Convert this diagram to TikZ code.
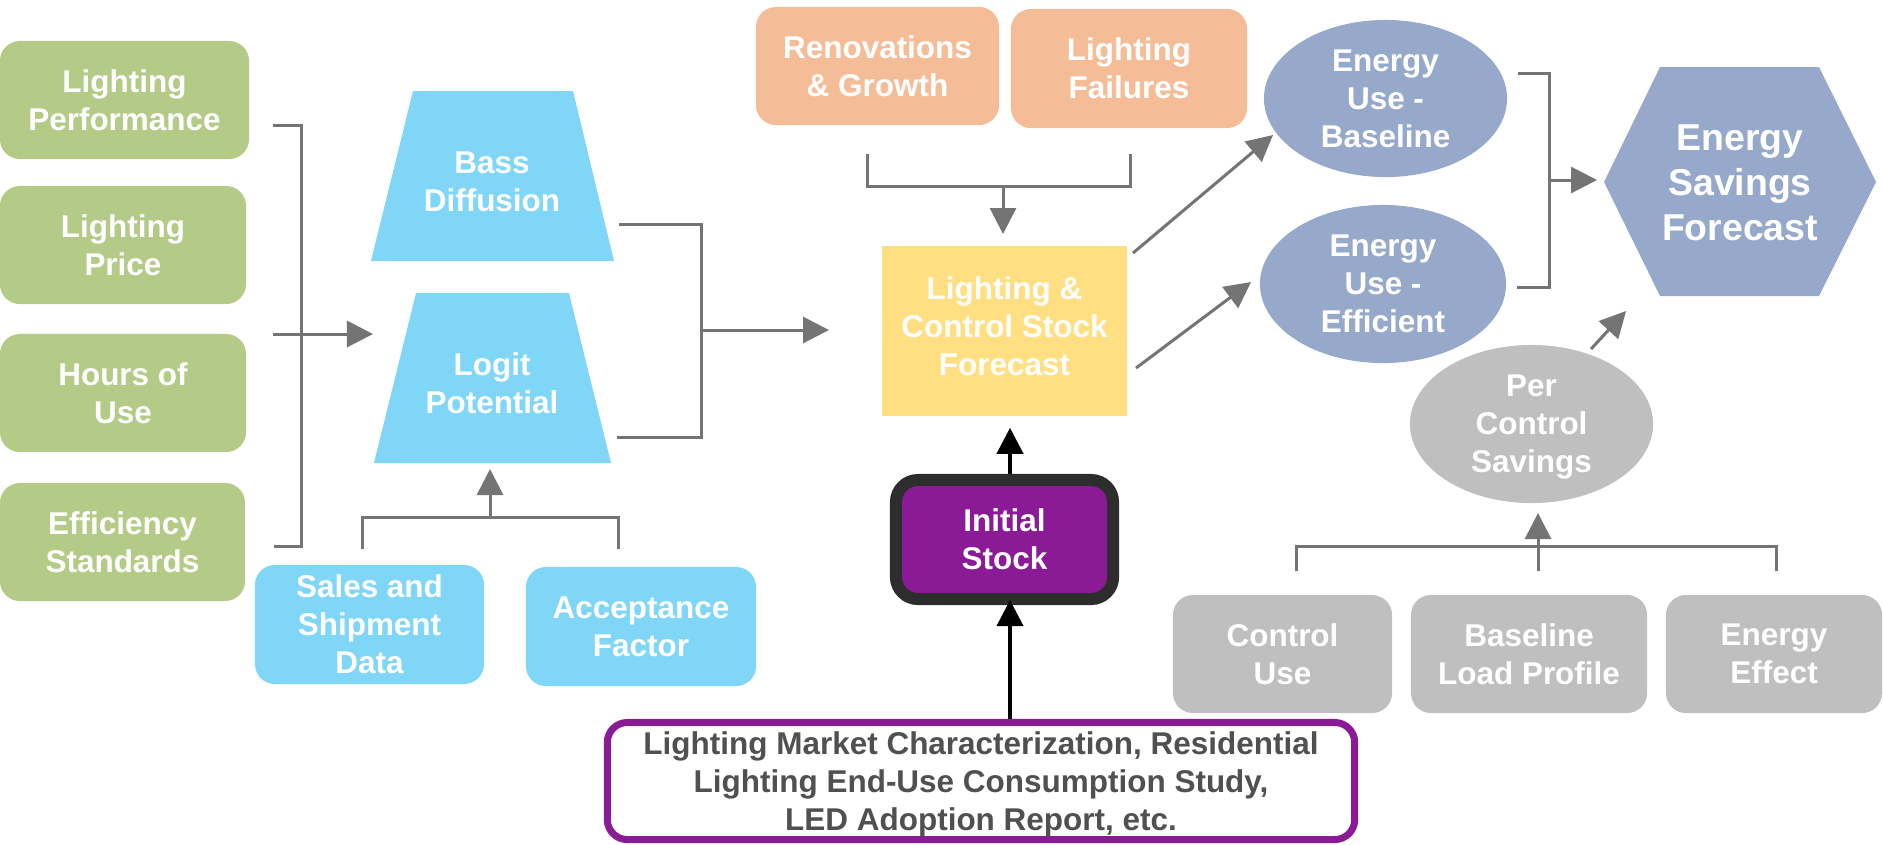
\documentclass[tikz,border=0pt]{standalone}
\usepackage{fontspec}
\setmainfont{Liberation Sans}
\usetikzlibrary{shapes.geometric,arrows.meta,calc}
\definecolor{leaf}{HTML}{B3CB87}
\definecolor{sky}{HTML}{80D6F7}
\definecolor{peach}{HTML}{F4BD98}
\definecolor{sun}{HTML}{FFDF82}
\definecolor{slate}{HTML}{96A9CA}
\definecolor{ash}{HTML}{BFBFBF}
\definecolor{plum}{HTML}{8B1A96}
\definecolor{coal}{HTML}{2D2D2D}
\definecolor{link}{HTML}{747474}
\definecolor{ink}{HTML}{505050}
\begin{document}
\begin{tikzpicture}[x=0.01cm,y=-0.01cm,
  txt/.style={text=white, font=\fontsize{8.95}{10.8}\selectfont\bfseries,
    align=center, text depth=0pt, inner sep=0pt},
  rbox/.style={txt, rounded corners=0.2cm, fill=#1},
  oval/.style={txt, ellipse, fill=#1},
  gline/.style={draw=link, line width=0.03cm},
  garrow/.style={gline, -{Triangle[length=0.26cm,width=0.26cm]}},
  barrow/.style={draw=black, line width=0.04cm, -{Triangle[length=0.26cm,width=0.26cm]}}]
\useasboundingbox (0,0) rectangle (1883,844);

% driver inputs
\node[rbox=leaf, minimum width=2.49cm, minimum height=1.18cm] (g1) at (124.5,100) {Lighting\\Performance};
\node[rbox=leaf, minimum width=2.46cm, minimum height=1.18cm] (g2) at (123,245) {Lighting\\Price};
\node[rbox=leaf, minimum width=2.46cm, minimum height=1.18cm] (g3) at (123,393) {Hours of\\Use};
\node[rbox=leaf, minimum width=2.45cm, minimum height=1.18cm] (g4) at (122.5,542) {Efficiency\\Standards};

% adoption models
\fill[sky] (413,91) -- (573,91) -- (614,261) -- (371,261) -- cycle;
\fill[sky] (416,293) -- (569,293) -- (611,463) -- (374,463) -- cycle;
\node[txt] (bass) at (492,182) {Bass\\Diffusion};
\node[txt] (logit) at (492,383) {Logit\\Potential};
\node[rbox=sky, minimum width=2.29cm, minimum height=1.19cm] (sales) at (369.5,624.5) {Sales and\\Shipment\\Data};
\node[rbox=sky, minimum width=2.30cm, minimum height=1.19cm] (accept) at (641,626.5) {Acceptance\\Factor};

% stock turnover
\node[rbox=peach, minimum width=2.43cm, minimum height=1.18cm] (reno) at (877.5,66) {Renovations\\\& Growth};
\node[rbox=peach, minimum width=2.36cm, minimum height=1.19cm] (fail) at (1129,68.5) {Lighting\\Failures};
\node[txt, fill=sun, minimum width=2.45cm, minimum height=1.70cm, text depth=0.09cm] (stock) at (1004.5,331) {Lighting \&\\Control Stock\\Forecast};
\node[txt, fill=plum, draw=coal, line width=0.12cm, rounded corners=0.22cm,
  minimum width=2.17cm, minimum height=1.19cm] (init) at (1004.5,539.5) {Initial\\Stock};
\node[txt, text=ink, fill=white, draw=plum, line width=0.07cm, rounded corners=0.2cm,
  minimum width=7.47cm, minimum height=1.17cm] (src) at (981,781)
  {Lighting Market Characterization, Residential\\Lighting End-Use Consumption Study,\\LED Adoption Report, etc.};

% energy results
\node[oval=slate, minimum width=2.43cm, minimum height=1.57cm] (eub) at (1385.5,98.5) {Energy\\Use -\\Baseline};
\node[oval=slate, minimum width=2.46cm, minimum height=1.58cm] (eue) at (1383,284) {Energy\\Use -\\Efficient};
\fill[slate] (1660,67) -- (1819,67) -- (1876,182) -- (1819,296) -- (1660,296) -- (1604,182) -- cycle;
\node[txt, font=\fontsize{10.64}{12.8}\selectfont\bfseries] (hex) at (1740,183) {Energy\\Savings\\Forecast};

% control savings
\node[oval=ash, minimum width=2.43cm, minimum height=1.58cm] (pcs) at (1531.5,424) {Per\\Control\\Savings};
\node[rbox=ash, minimum width=2.19cm, minimum height=1.18cm] (cu) at (1282.5,654) {Control\\Use};
\node[rbox=ash, minimum width=2.36cm, minimum height=1.18cm] (blp) at (1529,654) {Baseline\\Load Profile};
\node[rbox=ash, minimum width=2.16cm, minimum height=1.18cm] (ee) at (1774,654) {Energy\\Effect};

% bracket joining the driver inputs
\coordinate (gbA) at (273,125);
\coordinate (gbB) at (274,546);
\coordinate (gbS) at (273,334);
\coordinate (gbT) at (373,334);
\draw[gline] (gbA) -- (301,125) -- (301,546) -- (gbB);
\draw[garrow] (gbS) -- (gbT);

% bracket joining sales data and acceptance
\coordinate (sbA) at (362,549);
\coordinate (sbB) at (618,549);
\coordinate (sbS) at (490,517);
\coordinate (sbT) at (490,469);
\draw[gline] (sbA) -- (362,517) -- (618,517) -- (sbB);
\draw[garrow] (sbS) -- (sbT);

% bracket joining the two adoption models
\coordinate (mbA) at (619,224);
\coordinate (mbB) at (617,437);
\coordinate (mbS) at (701,330);
\coordinate (mbT) at (829,330);
\draw[gline] (mbA) -- (701,224) -- (701,437) -- (mbB);
\draw[garrow] (mbS) -- (mbT);

% bracket joining renovations and failures
\coordinate (rbA) at (867,154);
\coordinate (rbB) at (1130,154);
\coordinate (rbS) at (1003,186);
\coordinate (rbT) at (1003,234);
\draw[gline] (rbA) -- (867,186) -- (1130,186) -- (rbB);
\draw[garrow] (rbS) -- (rbT);

% stock forecast to the energy use results
\coordinate (sfA) at (1133,253);
\coordinate (sfB) at (1273,135);
\coordinate (sfC) at (1136,368);
\coordinate (sfD) at (1251,282);
\draw[garrow] (sfA) -- (sfB);
\draw[garrow] (sfC) -- (sfD);

% bracket joining the two energy uses
\coordinate (ebA) at (1518,73);
\coordinate (ebB) at (1517,287);
\coordinate (ebS) at (1549,180);
\coordinate (ebT) at (1597,180);
\draw[gline] (ebA) -- (1549,73) -- (1549,287) -- (ebB);
\draw[garrow] (ebS) -- (ebT);

% per control savings to the savings forecast
\coordinate (psA) at (1591,349);
\coordinate (psB) at (1626,311);
\draw[garrow] (psA) -- (psB);

% bracket joining the control savings inputs
\coordinate (cbA) at (1296,571);
\coordinate (cbB) at (1776,571);
\coordinate (cbS) at (1538,571);
\coordinate (cbT) at (1538,513);
\draw[gline] (cbA) -- (1296,546) -- (1776,546) -- (cbB);
\draw[garrow] (cbS) -- (cbT);

% initial stock chain
\coordinate (col) at (1010,0);
\draw[barrow, shorten >=0.11cm] (init.north -| col) -- (stock.south -| col);
\draw[barrow, shorten >=-0.05cm] (src.north -| col) -- (init.south -| col);
\end{tikzpicture}
\end{document}
